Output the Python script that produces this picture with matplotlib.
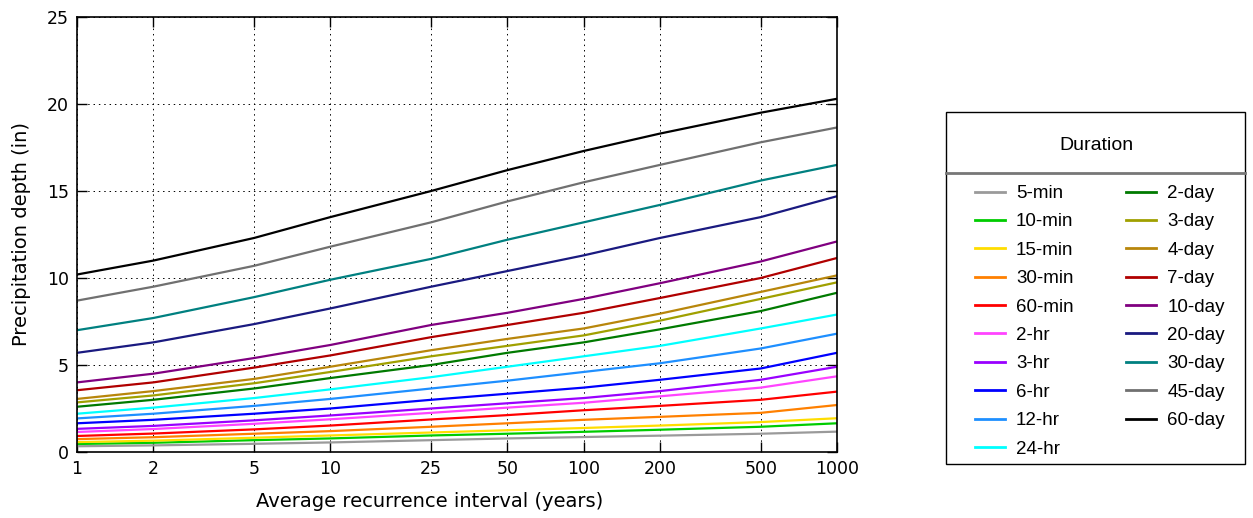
import matplotlib
matplotlib.use("Agg")
import matplotlib.pyplot as plt
from matplotlib.lines import Line2D
from matplotlib.patches import Rectangle
import numpy as np

# ---------------- data ----------------
intervals = [1, 2, 5, 10, 25, 50, 100, 200, 500, 1000]
tick_labels = ["1", "2", "5", "10", "25", "50", "100", "200", "500", "1000"]

durations = ["5-min", "10-min", "15-min", "30-min", "60-min", "2-hr", "3-hr", "6-hr",
             "12-hr", "24-hr", "2-day", "3-day", "4-day", "7-day", "10-day",
             "20-day", "30-day", "45-day", "60-day"]

d_5min  = [0.33, 0.38, 0.47, 0.55, 0.68, 0.78, 0.86, 0.94, 1.05, 1.17]
d_10min = [0.46, 0.53, 0.68, 0.78, 0.95, 1.05, 1.16, 1.28, 1.45, 1.65]
d_15min = [0.57, 0.65, 0.82, 0.95, 1.12, 1.25, 1.38, 1.52, 1.72, 1.94]
d_30min = [0.74, 0.85, 1.05, 1.20, 1.45, 1.65, 1.85, 2.02, 2.25, 2.70]
d_60min = [0.92, 1.06, 1.30, 1.52, 1.87, 2.12, 2.40, 2.65, 3.00, 3.47]
d_2hr   = [1.15, 1.32, 1.62, 1.88, 2.25, 2.55, 2.83, 3.20, 3.70, 4.35]
d_3hr   = [1.33, 1.50, 1.82, 2.10, 2.50, 2.80, 3.10, 3.50, 4.15, 4.90]
d_6hr   = [1.65, 1.85, 2.20, 2.50, 3.00, 3.35, 3.70, 4.15, 4.80, 5.70]
d_12hr  = [1.93, 2.20, 2.65, 3.05, 3.65, 4.10, 4.60, 5.10, 5.95, 6.80]
d_24hr  = [2.20, 2.55, 3.10, 3.60, 4.30, 4.90, 5.50, 6.10, 7.10, 7.90]
d_2day  = [2.60, 3.00, 3.65, 4.25, 5.00, 5.70, 6.30, 7.05, 8.10, 9.15]
d_3day  = [2.85, 3.25, 3.95, 4.60, 5.50, 6.10, 6.70, 7.55, 8.80, 9.75]
d_4day  = [3.05, 3.50, 4.20, 4.90, 5.85, 6.50, 7.10, 7.95, 9.20, 10.15]
d_7day  = [3.55, 4.00, 4.85, 5.55, 6.60, 7.30, 8.00, 8.85, 10.00, 11.15]
d_10day = [4.00, 4.50, 5.40, 6.15, 7.30, 8.00, 8.80, 9.70, 10.95, 12.10]
d_20day = [5.70, 6.30, 7.35, 8.25, 9.50, 10.40, 11.30, 12.30, 13.50, 14.70]
d_30day = [7.00, 7.70, 8.90, 9.90, 11.10, 12.20, 13.20, 14.20, 15.60, 16.50]
d_45day = [8.70, 9.50, 10.70, 11.80, 13.20, 14.40, 15.50, 16.50, 17.80, 18.65]
d_60day = [10.20, 11.00, 12.30, 13.50, 15.00, 16.20, 17.30, 18.30, 19.50, 20.30]

series = [d_5min, d_10min, d_15min, d_30min, d_60min, d_2hr, d_3hr, d_6hr, d_12hr,
          d_24hr, d_2day, d_3day, d_4day, d_7day, d_10day, d_20day, d_30day,
          d_45day, d_60day]

colors = ["#9a9a9a", "#00cc00", "#ffdd00", "#ff8000", "#ff0000", "#ff44ff", "#9900ff",
          "#0000ff", "#1e8fff", "#00ffff", "#007a00", "#a0a000", "#b8860b", "#b00000",
          "#800080", "#1a1a80", "#008080", "#707070", "#000000"]

# ---------------- figure ----------------
W, H = 1253, 518
fig = plt.figure(figsize=(W / 100, H / 100), dpi=100)
ax = fig.add_axes([77 / W, (H - 452) / H, (837 - 77) / W, (452 - 17) / H])

for vals, c in zip(series, colors):
    ax.plot(intervals, vals, color=c, lw=1.6)

ax.set_xscale("log")
ax.set_xlim(1, 1000)
ax.set_ylim(0, 25)
ax.set_xticks(intervals)
ax.set_xticklabels(tick_labels)
ax.xaxis.set_minor_locator(matplotlib.ticker.NullLocator())
ax.set_yticks([0, 5, 10, 15, 20, 25])
ax.set_yticklabels(["0", "5", "10", "15", "20", "25"])

ax.grid(True, which="major", color="black", linestyle=(0, (1.5, 4)), lw=0.7)
ax.tick_params(which="major", direction="in", length=7, width=1,
               top=True, right=True, labelsize=12.5, pad=6)
tick_family = ["DejaVu Sans Condensed", "Liberation Sans Narrow", "DejaVu Sans"]
for lab in ax.get_xticklabels() + ax.get_yticklabels():
    lab.set_family(tick_family)
for sp in ax.spines.values():
    sp.set_linewidth(1.2)

ax.set_xlabel("Average recurrence interval (years)", fontsize=14, labelpad=10,
              x=(430 - 77) / (837 - 77))
ax.set_ylabel("Precipitation depth (in)", fontsize=14, labelpad=11)

# ---------------- legend ----------------
fig.add_artist(Rectangle((946 / W, (H - 464) / H), (1245 - 946) / W, (464 - 112) / H,
                         transform=fig.transFigure, fill=False, edgecolor="black", lw=1))
fig.text(1096 / W, (H - 146) / H, "Duration", ha="center", va="center",
         fontsize=14, family="Liberation Sans")
fig.add_artist(Line2D([946 / W, 1245 / W], [(H - 173) / H] * 2, transform=fig.transFigure,
                      color="#777777", lw=2))

handles = [Line2D([], [], color=c, lw=2) for c in colors]
leg = fig.legend(handles, durations, ncol=2, loc="upper left",
                 bbox_to_anchor=(975 / W, (H - 185) / H), frameon=False,
                 borderpad=0, borderaxespad=0, handlelength=1.6, handletextpad=0.59,
                 labelspacing=0.6, columnspacing=2.8,
                 prop={"family": "Liberation Sans", "size": 13.5})

fig.savefig("out.png", dpi=100)
